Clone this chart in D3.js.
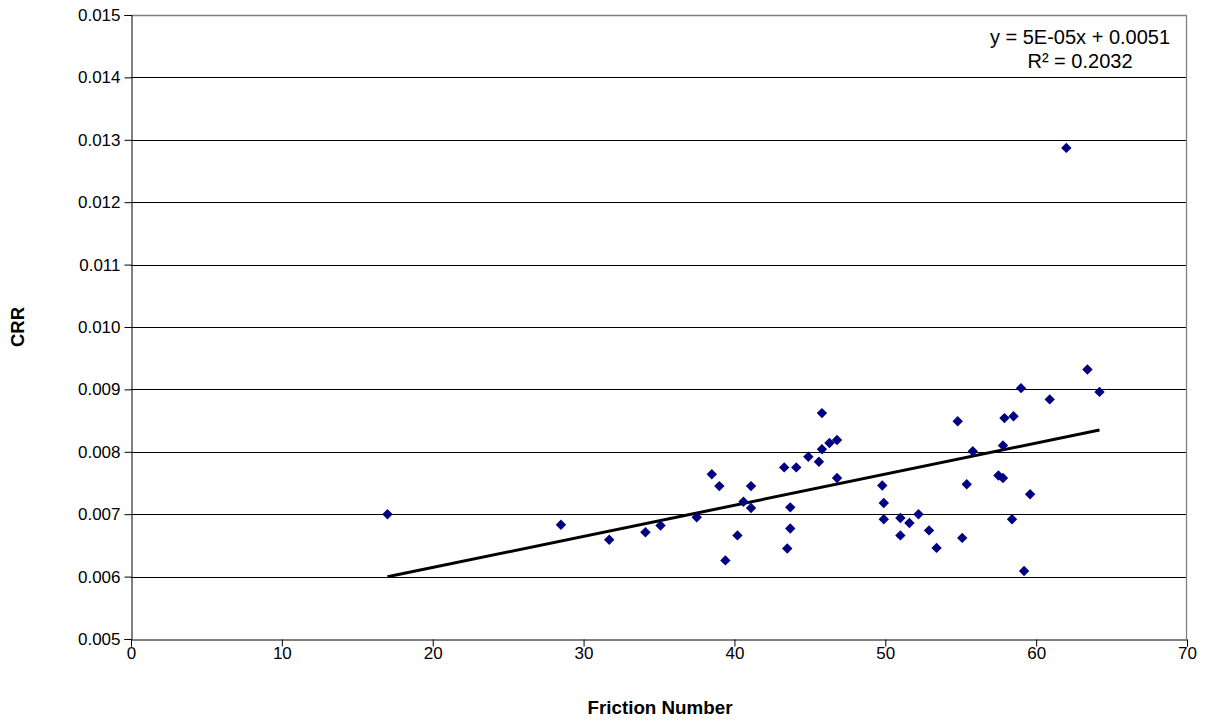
<!DOCTYPE html>
<html>
<head>
<meta charset="utf-8">
<script src="https://cdn.jsdelivr.net/npm/d3@7"></script>
<style>
  html, body { margin: 0; padding: 0; background: #fff; }
  svg { display: block; font-family: "Liberation Sans", Arial, sans-serif; }
</style>
</head>
<body>
<svg id="chart" width="1206" height="723"></svg>
<script>
// Friction number vs. coefficient of rolling resistance (CRR)
const frictionNumber = [
  17.0, 28.5, 31.7, 34.1, 35.1, 37.5, 38.5, 39.0, 39.4, 40.2,
  40.6, 41.1, 41.1, 43.3, 43.5, 43.7, 43.7, 44.1, 44.9, 45.6,
  45.8, 45.8, 46.3, 46.8, 46.8, 49.8, 49.9, 49.9, 51.0, 51.0,
  51.6, 52.2, 52.9, 53.4, 54.8, 55.1, 55.4, 55.8, 57.5, 57.8,
  57.8, 57.9, 58.4, 58.5, 59.0, 59.2, 59.6, 60.9, 62.0, 63.4,
  64.2
];
const crr = [
  0.00700, 0.00683, 0.00659, 0.00671, 0.00682, 0.00695, 0.00764, 0.00745, 0.00626, 0.00666,
  0.00720, 0.00745, 0.00710, 0.00775, 0.00645, 0.00711, 0.00677, 0.00775, 0.00792, 0.00784,
  0.00862, 0.00804, 0.00814, 0.00819, 0.00758, 0.00746, 0.00718, 0.00692, 0.00666, 0.00694,
  0.00686, 0.00700, 0.00674, 0.00646, 0.00849, 0.00662, 0.00748, 0.00801, 0.00762, 0.00758,
  0.00810, 0.00854, 0.00692, 0.00857, 0.00902, 0.00609, 0.00732, 0.00884, 0.01287, 0.00932,
  0.00896
];
const xTicks = [0, 10, 20, 30, 40, 50, 60, 70];
const yTicks = [0.005, 0.006, 0.007, 0.008, 0.009, 0.010, 0.011, 0.012, 0.013, 0.014, 0.015];
const equationLines = ["y = 5E-05x + 0.0051", "R\u00B2 = 0.2032"];

const points = frictionNumber.map((f, i) => ({ x: f, y: crr[i] }));

const svg = d3.select("#chart");
const plot = { left: 131, top: 15, right: 1187, bottom: 639 };
const fontFamily = "'Liberation Sans', Arial, sans-serif";

const x = d3.scaleLinear().domain([0, 70]).range([plot.left, plot.right]);
const y = d3.scaleLinear().domain([0.005, 0.015]).range([plot.bottom, plot.top]);

// horizontal gridlines
svg.append("g")
  .selectAll("line")
  .data(yTicks.slice(1, -1))
  .join("line")
  .attr("x1", plot.left).attr("x2", plot.right)
  .attr("y1", d => Math.round(y(d)) + 0.5).attr("y2", d => Math.round(y(d)) + 0.5)
  .attr("stroke", "#000").attr("stroke-width", 1);

// top and right border of the plot area
svg.append("path")
  .attr("d", `M${plot.left},${plot.top + 0.5}H${plot.right - 0.5}V${plot.bottom}`)
  .attr("fill", "none").attr("stroke", "#808080").attr("stroke-width", 1.3);

// y axis
const yAxis = d3.axisLeft(y).tickValues(yTicks).tickFormat(d3.format(".3f")).tickSize(7).tickPadding(4);
const gy = svg.append("g").attr("transform", `translate(${plot.left + 0.5},0)`).call(yAxis);
gy.select(".domain").attr("stroke", "#000");
gy.selectAll(".tick line").attr("stroke", "#000");
gy.selectAll("text").attr("font-size", 17).attr("fill", "#000").attr("font-family", fontFamily);

// x axis
const xAxis = d3.axisBottom(x).tickValues(xTicks).tickFormat(d3.format("d")).tickSize(7).tickPadding(0);
const gx = svg.append("g").attr("transform", `translate(0,${plot.bottom + 0.5})`).call(xAxis);
gx.select(".domain").attr("stroke", "#000");
gx.selectAll(".tick line").attr("stroke", "#000");
gx.selectAll("text").attr("font-size", 17).attr("fill", "#000").attr("font-family", fontFamily);

// linear least-squares trendline over the data range
const mx = d3.mean(points, d => d.x), my = d3.mean(points, d => d.y);
const slope = d3.sum(points, d => (d.x - mx) * (d.y - my)) / d3.sum(points, d => (d.x - mx) ** 2);
const intercept = my - slope * mx;
const [xMin, xMax] = d3.extent(points, d => d.x);
svg.append("line")
  .attr("x1", x(xMin)).attr("y1", y(slope * xMin + intercept))
  .attr("x2", x(xMax)).attr("y2", y(slope * xMax + intercept))
  .attr("stroke", "#000").attr("stroke-width", 3);

// data markers
const diamond = "M0,-5.2L5.2,0L0,5.2L-5.2,0Z";
svg.append("g")
  .selectAll("path")
  .data(points)
  .join("path")
  .attr("d", diamond)
  .attr("transform", d => `translate(${x(d.x)},${y(d.y)})`)
  .attr("fill", "#000080");

// trendline equation
svg.append("g")
  .selectAll("text")
  .data(equationLines)
  .join("text")
  .attr("x", 1080)
  .attr("y", (d, i) => 44 + i * 24)
  .attr("text-anchor", "middle")
  .attr("font-size", 20)
  .attr("fill", "#000")
  .text(d => d);

// axis titles
svg.append("text")
  .attr("x", 660).attr("y", 714)
  .attr("text-anchor", "middle")
  .attr("font-size", 18.8).attr("font-weight", "bold")
  .text("Friction Number");

svg.append("text")
  .attr("transform", `translate(24,${(plot.top + plot.bottom) / 2}) rotate(-90)`)
  .attr("text-anchor", "middle")
  .attr("font-size", 18.5).attr("font-weight", "bold")
  .text("CRR");
</script>
</body>
</html>
